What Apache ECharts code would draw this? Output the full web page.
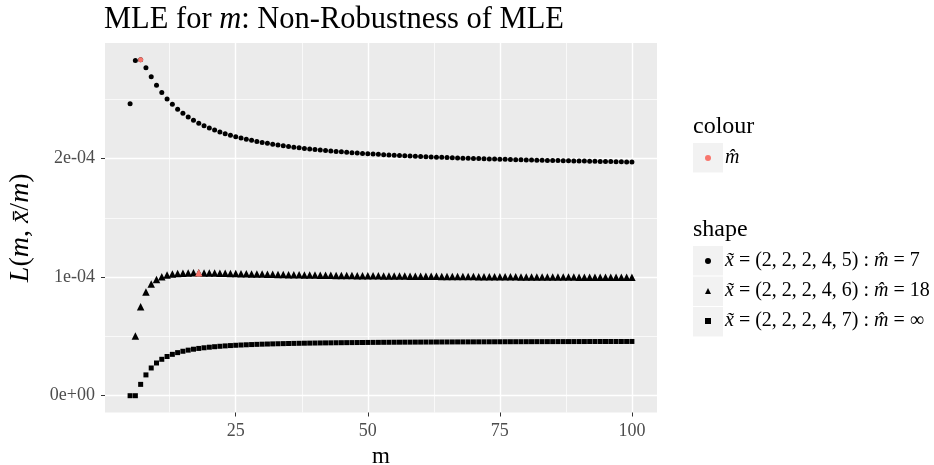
<!DOCTYPE html>
<html>
<head>
<meta charset="utf-8">
<script src="https://cdn.jsdelivr.net/npm/echarts@6/dist/echarts.min.js"></script>
<style>
  html, body { margin: 0; padding: 0; background: #fff; }
  #chart { width: 934px; height: 465px; }
</style>
</head>
<body>
<div id="chart"></div>
<script>
// likelihood values are in units of 1e-4
const mValues = [5, 6, 7, 8, 9, 10, 11, 12, 13, 14, 15, 16, 17, 18, 19, 20,
  21, 22, 23, 24, 25, 26, 27, 28, 29, 30, 31, 32, 33, 34, 35, 36, 37, 38, 39, 40,
  41, 42, 43, 44, 45, 46, 47, 48, 49, 50, 51, 52, 53, 54, 55, 56, 57, 58, 59, 60,
  61, 62, 63, 64, 65, 66, 67, 68, 69, 70, 71, 72, 73, 74, 75, 76, 77, 78, 79, 80,
  81, 82, 83, 84, 85, 86, 87, 88, 89, 90, 91, 92, 93, 94, 95, 96, 97, 98, 99, 100];

// x = (2,2,2,4,5), m = 5..100
const likA = [2.465, 2.829, 2.835, 2.768, 2.692, 2.621, 2.559, 2.505, 2.459, 2.418,
  2.383, 2.352, 2.325, 2.300, 2.279, 2.259, 2.242, 2.226, 2.211, 2.198,
  2.186, 2.175, 2.164, 2.155, 2.146, 2.137, 2.130, 2.122, 2.116, 2.109,
  2.103, 2.097, 2.092, 2.087, 2.082, 2.078, 2.073, 2.069, 2.065, 2.061,
  2.058, 2.055, 2.051, 2.048, 2.045, 2.042, 2.039, 2.037, 2.034, 2.032,
  2.029, 2.027, 2.025, 2.023, 2.021, 2.019, 2.017, 2.015, 2.013, 2.012,
  2.010, 2.008, 2.007, 2.005, 2.004, 2.002, 2.001, 2.000, 1.998, 1.997,
  1.996, 1.995, 1.993, 1.992, 1.991, 1.990, 1.989, 1.988, 1.987, 1.986,
  1.985, 1.984, 1.983, 1.982, 1.981, 1.980, 1.980, 1.979, 1.978, 1.977,
  1.976, 1.976, 1.975, 1.974, 1.973, 1.973];

// x = (2,2,2,4,6), m = 6..100
const likB = [0.5040, 0.7511, 0.8756, 0.9429, 0.9813, 1.0040, 1.0178, 1.0271, 1.0314,
  1.0344, 1.0360, 1.0367, 1.0368, 1.0365, 1.0359, 1.0351, 1.0342, 1.0332, 1.0322,
  1.0312, 1.0301, 1.0291, 1.0281, 1.0271, 1.0261, 1.0252, 1.0243, 1.0234, 1.0225,
  1.0217, 1.0209, 1.0201, 1.0194, 1.0187, 1.0180, 1.0173, 1.0166, 1.0160, 1.0154,
  1.0148, 1.0143, 1.0137, 1.0132, 1.0127, 1.0122, 1.0117, 1.0113, 1.0108, 1.0104,
  1.0100, 1.0096, 1.0092, 1.0088, 1.0084, 1.0081, 1.0077, 1.0074, 1.0071, 1.0067,
  1.0064, 1.0061, 1.0058, 1.0055, 1.0052, 1.0050, 1.0047, 1.0044, 1.0042, 1.0039,
  1.0037, 1.0035, 1.0032, 1.0030, 1.0028, 1.0026, 1.0024, 1.0021, 1.0019, 1.0017,
  1.0016, 1.0014, 1.0012, 1.0010, 1.0008, 1.0006, 1.0005, 1.0003, 1.0001, 1.0000,
  0.9998, 0.9997, 0.9995, 0.9994, 0.9992, 0.9991];

// x = (2,2,2,4,7), m = 5..100
const likC = [0, 0, 0.0957, 0.1756, 0.2339, 0.2761, 0.3073, 0.3309, 0.3491, 0.3635,
  0.3751, 0.3845, 0.3924, 0.3990, 0.4045, 0.4093, 0.4135, 0.4171, 0.4203, 0.4231,
  0.4256, 0.4278, 0.4298, 0.4316, 0.4333, 0.4348, 0.4361, 0.4374, 0.4385, 0.4396,
  0.4406, 0.4415, 0.4423, 0.4431, 0.4438, 0.4445, 0.4452, 0.4458, 0.4463, 0.4469,
  0.4474, 0.4479, 0.4483, 0.4487, 0.4491, 0.4495, 0.4499, 0.4502, 0.4506, 0.4509,
  0.4512, 0.4515, 0.4518, 0.4520, 0.4523, 0.4525, 0.4528, 0.4530, 0.4532, 0.4534,
  0.4536, 0.4538, 0.4540, 0.4542, 0.4544, 0.4545, 0.4547, 0.4548, 0.4550, 0.4551,
  0.4553, 0.4554, 0.4556, 0.4557, 0.4558, 0.4559, 0.4560, 0.4562, 0.4563, 0.4564,
  0.4565, 0.4566, 0.4567, 0.4568, 0.4569, 0.4570, 0.4571, 0.4572, 0.4572, 0.4573,
  0.4574, 0.4575, 0.4576, 0.4576, 0.4577, 0.4578];

// the two finite MLEs
const mHat = [7, 18];
const mHatLik = [2.835, 1.0368];
const mHatSymbols = ['circle', 'triangle'];

const xTicks = [25, 50, 75, 100];
const xMinorTicks = [12.5, 37.5, 62.5, 87.5];
const yTicks = [0, 1, 2];
const yTickLabels = ['0e+00', '1e-04', '2e-04'];
const yMinorTicks = [0.5, 1.5, 2.5];

const shapeNames = ['x5', 'x6', 'x7'];
const shapeLabels = [
  '{i|x\u0303} = (2, 2, 2, 4, 5) : {i|m\u0302} = 7',
  '{i|x\u0303} = (2, 2, 2, 4, 6) : {i|m\u0302} = 18',
  '{i|x\u0303} = (2, 2, 2, 4, 7) : {i|m\u0302} = \u221e'
];

const FONT = '"Liberation Serif", "Times New Roman", serif';
const GREY = '#4D4D4D';

function pairs(xs, ys) {
  return ys.map(function (y, i) { return [xs[i], y]; });
}

const chart = echarts.init(document.getElementById('chart'));

const minorAxisBase = {
  type: 'value',
  axisLine: { show: false },
  axisLabel: { show: false },
  splitLine: { show: true, lineStyle: { color: '#fff', width: 0.7 } }
};

const option = {
  animation: false,
  backgroundColor: '#fff',
  title: {
    text: '{n|MLE for }{i|m}{n|: Non-Robustness of MLE}',
    left: 104,
    top: 4,
    padding: 0,
    textStyle: {
      rich: {
        n: { fontFamily: FONT, fontSize: 30.5, fontWeight: 'normal', color: '#000' },
        i: { fontFamily: FONT, fontSize: 30.5, fontWeight: 'normal', color: '#000', fontStyle: 'italic' }
      }
    }
  },
  grid: {
    left: 105, right: 277, top: 43, bottom: 52.5,
    containLabel: false,
    outerBoundsMode: 'none',
    show: true, backgroundColor: '#EBEBEB', borderWidth: 0
  },
  xAxis: [{
    type: 'value',
    min: 0.25, max: 104.75,
    name: 'm',
    nameLocation: 'middle',
    nameGap: 25,
    nameTextStyle: { fontFamily: FONT, fontSize: 23, color: '#000' },
    axisLine: { show: false, onZero: false },
    axisTick: { show: true, length: 4, lineStyle: { color: '#333' }, customValues: xTicks },
    axisLabel: { customValues: xTicks, color: GREY, fontFamily: FONT, fontSize: 18, margin: 10 },
    splitLine: { show: true, lineStyle: { color: '#fff', width: 1.4 } }
  }, Object.assign({}, minorAxisBase, {
    min: 0.25, max: 104.75, position: 'bottom',
    axisTick: { show: false, customValues: xMinorTicks }
  })],
  yAxis: [{
    type: 'value',
    min: -0.14175, max: 2.97665,
    name: '{i|L}{n|(}{i|m}{n|, }{i|x\u0304}{n|/}{i|m}{n|)}',
    nameLocation: 'middle',
    nameRotate: 90,
    nameGap: 70,
    nameTextStyle: {
      rich: {
        n: { fontFamily: FONT, fontSize: 28, color: '#000' },
        i: { fontFamily: FONT, fontSize: 28, color: '#000', fontStyle: 'italic' }
      }
    },
    axisLine: { show: false, onZero: false },
    axisTick: { show: true, length: 4, lineStyle: { color: '#333' }, customValues: yTicks },
    axisLabel: {
      customValues: yTicks, color: GREY, fontFamily: FONT, fontSize: 18, margin: 10,
      formatter: function (v) { return yTickLabels[yTicks.indexOf(v)]; }
    },
    splitLine: { show: true, lineStyle: { color: '#fff', width: 1.4 } }
  }, Object.assign({}, minorAxisBase, {
    min: -0.14175, max: 2.97665, position: 'left',
    axisTick: { show: false, customValues: yMinorTicks }
  })],
  legend: [{
    // colour
    data: [{ name: 'mhat', icon: 'circle' }],
    orient: 'vertical',
    left: 705, top: 143,
    padding: 0, itemGap: 0,
    itemWidth: 6, itemHeight: 6,
    selectedMode: false,
    formatter: function () { return '{i|m\u0302}'; },
    textStyle: {
      fontFamily: FONT, fontSize: 20, color: '#000', lineHeight: 30,
      padding: [0, 0, 0, 9],
      rich: { i: { fontFamily: FONT, fontSize: 20, color: '#000', fontStyle: 'italic', lineHeight: 30 } }
    }
  }, {
    // shape
    data: [
      { name: shapeNames[0], icon: 'circle' },
      { name: shapeNames[1], icon: 'triangle' },
      { name: shapeNames[2], icon: 'rect' }
    ],
    orient: 'vertical',
    left: 705, top: 246,
    padding: 0, itemGap: 0,
    itemWidth: 6, itemHeight: 6,
    selectedMode: false,
    formatter: function (name) { return shapeLabels[shapeNames.indexOf(name)]; },
    textStyle: {
      fontFamily: FONT, fontSize: 20, color: '#000', lineHeight: 30,
      padding: [0, 0, 0, 9],
      rich: { i: { fontFamily: FONT, fontSize: 20, color: '#000', fontStyle: 'italic', lineHeight: 30 } }
    }
  }],
  graphic: [
    { type: 'rect', z: 0, shape: { x: 693, y: 143, width: 30, height: 29.5 }, style: { fill: '#F2F2F2' } },
    { type: 'rect', z: 0, shape: { x: 693, y: 246, width: 30, height: 29.5 }, style: { fill: '#F2F2F2' } },
    { type: 'rect', z: 0, shape: { x: 693, y: 276.5, width: 30, height: 29.5 }, style: { fill: '#F2F2F2' } },
    { type: 'rect', z: 0, shape: { x: 693, y: 307, width: 30, height: 29.5 }, style: { fill: '#F2F2F2' } },
    { type: 'text', z: 0, style: { x: 693, y: 127, text: 'colour', font: '24px ' + FONT, fill: '#000', verticalAlign: 'middle' } },
    { type: 'text', z: 0, style: { x: 693, y: 230, text: 'shape', font: '24px ' + FONT, fill: '#000', verticalAlign: 'middle' } }
  ],
  series: [{
    name: shapeNames[0],
    type: 'scatter',
    symbol: 'circle',
    symbolSize: 5,
    itemStyle: { color: '#000', opacity: 1 },
    data: pairs(mValues, likA)
  }, {
    name: shapeNames[1],
    type: 'scatter',
    symbol: 'triangle',
    symbolSize: 7.5,
    itemStyle: { color: '#000', opacity: 1 },
    data: pairs(mValues.slice(1), likB)
  }, {
    name: shapeNames[2],
    type: 'scatter',
    symbol: 'rect',
    symbolSize: 5,
    itemStyle: { color: '#000', opacity: 1 },
    data: pairs(mValues, likC)
  }, {
    name: 'mhat',
    type: 'scatter',
    symbolSize: 6,
    itemStyle: { color: '#F8766D', opacity: 1 },
    data: mHat.map(function (m, i) {
      return { value: [m, mHatLik[i]], symbol: mHatSymbols[i], symbolSize: i === 0 ? 5 : 7.5 };
    })
  }]
};

chart.setOption(option);
</script>
</body>
</html>
